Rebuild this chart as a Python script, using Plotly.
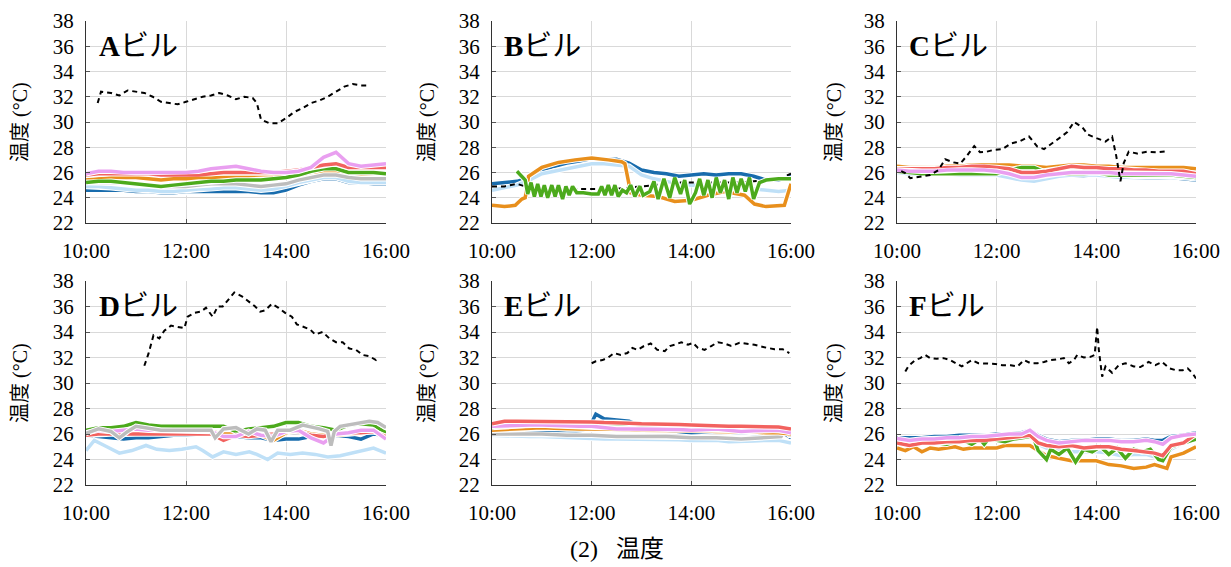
import plotly.graph_objects as go

# ---------------- data ----------------
TICK_VALS = ["10:00", "12:00", "14:00", "16:00"]
Y_TICKS = [22, 24, 26, 28, 30, 32, 34, 36, 38]
PANEL_NAMES = ["A", "B", "C", "D", "E", "F"]

T15 = ["10:00", "10:15", "10:30", "10:45", "11:00", "11:15", "11:30", "11:45", "12:00",
       "12:15", "12:30", "12:45", "13:00", "13:15", "13:30", "13:45", "14:00", "14:15",
       "14:30", "14:45", "15:00", "15:15", "15:30", "15:45", "16:00"]

# ---- A ----
A_blue = [24.6, 24.6, 24.6, 24.6, 24.5, 24.5, 24.4, 24.4, 24.5, 24.5, 24.5, 24.5, 24.5, 24.5, 24.4, 24.4, 24.6, 25.0, 25.3, 25.5, 25.5, 25.2, 25.2, 25.1, 25.1]
A_lblue = [24.9, 24.9, 24.8, 24.7, 24.6, 24.6, 24.5, 24.5, 24.6, 24.7, 24.7, 24.8, 24.8, 24.7, 24.6, 24.7, 24.9, 25.2, 25.4, 25.6, 25.6, 25.3, 25.2, 25.2, 25.2]
A_orange = [25.4, 25.5, 25.6, 25.6, 25.6, 25.5, 25.4, 25.5, 25.5, 25.6, 25.6, 25.6, 25.6, 25.6, 25.6, 25.6, 25.7, 25.8, 26.0, 26.1, 26.1, 25.9, 25.9, 25.9, 25.9]
A_gray = [25.2, 25.2, 25.2, 25.2, 25.1, 25.0, 24.9, 24.9, 24.9, 25.0, 25.1, 25.1, 25.1, 25.0, 24.9, 25.0, 25.1, 25.4, 25.6, 25.8, 25.8, 25.6, 25.5, 25.5, 25.5]
A_green = [25.2, 25.3, 25.3, 25.2, 25.1, 25.0, 24.9, 25.0, 25.1, 25.2, 25.3, 25.3, 25.4, 25.4, 25.4, 25.5, 25.6, 25.8, 26.1, 26.3, 26.3, 26.0, 26.0, 26.0, 25.9]
A_red = [25.8, 25.9, 25.9, 25.9, 25.9, 25.9, 25.8, 25.8, 25.8, 25.8, 25.9, 26.0, 26.0, 26.0, 26.0, 26.0, 26.1, 26.2, 26.4, 26.6, 26.7, 26.4, 26.4, 26.4, 26.4]
A_pink = [25.9, 26.1, 26.1, 26.0, 26.0, 26.0, 26.0, 26.0, 26.0, 26.1, 26.3, 26.4, 26.5, 26.3, 26.1, 26.0, 26.0, 26.1, 26.4, 27.2, 27.6, 26.7, 26.5, 26.6, 26.7]
A_out_t = ["10:14", "10:18", "10:30", "10:40", "10:50", "11:00", "11:10", "11:20", "11:30", "11:40", "11:50", "12:00",
           "12:10", "12:20", "12:30", "12:40", "12:50", "13:00", "13:10", "13:20", "13:25", "13:30", "13:40", "13:50",
           "14:00", "14:10", "14:20", "14:30", "14:40", "14:50", "15:00", "15:10", "15:20", "15:30", "15:40"]
A_out = [31.5, 32.4, 32.3, 32.1, 32.5, 32.4, 32.3, 32.0, 31.6, 31.5, 31.4, 31.6, 31.8, 32.0, 32.1, 32.3, 32.1, 31.8,
         32.0, 31.9, 31.5, 30.2, 29.9, 29.9, 30.3, 30.8, 31.1, 31.5, 31.7, 32.0, 32.4, 32.8, 33.0, 32.9, 32.9]

# ---- B ----
B_blue = [25.1, 25.2, 25.3, 25.6, 26.2, 26.5, 26.75, 26.9, 27.1, 27.0, 27.05, 26.75, 26.2, 26.0, 25.9, 25.7, 25.8, 25.9, 25.8, 25.9, 25.9, 25.7, 25.4, 25.4, 25.7]
B_lblue = [24.6, 24.8, 25.0, 25.4, 25.9, 26.1, 26.3, 26.5, 26.7, 26.7, 26.6, 26.5, 25.8, 25.5, 25.3, 25.1, 25.0, 25.0, 24.9, 24.8, 24.8, 24.7, 24.6, 24.5, 24.6]
B_orange_t = ["10:00", "10:15", "10:28", "10:36", "10:40", "10:44", "11:00", "11:20", "11:40", "12:00", "12:20", "12:36", "12:40",
              "12:47", "13:00", "13:20", "13:40", "14:00", "14:20", "14:40", "15:04", "15:16", "15:30", "15:52", "16:00"]
B_orange = [23.4, 23.3, 23.4, 23.9, 24.0, 25.7, 26.4, 26.8, 27.0, 27.15, 27.0, 26.85, 26.7, 24.4, 24.2, 24.1, 23.7,
            23.8, 24.2, 24.5, 24.2, 23.5, 23.3, 23.4, 25.1]
B_green_t = ["10:30", "10:35", "10:40", "10:43", "10:47", "10:51", "10:55", "10:59", "11:03", "11:07", "11:12", "11:16",
             "11:20", "11:25", "11:29", "11:33", "11:37", "11:42", "11:50", "12:00", "12:08", "12:12", "12:16", "12:20",
             "12:24", "12:28", "12:32", "12:37", "12:42", "12:47", "12:52", "12:58", "13:02", "13:10", "13:15", "13:20",
             "13:27", "13:34", "13:40", "13:47", "13:52", "13:58", "14:05", "14:10", "14:15", "14:20", "14:25", "14:30",
             "14:35", "14:40", "14:45", "14:50", "14:55", "15:00", "15:05", "15:10", "15:15", "15:22", "15:30", "15:45", "16:00"]
B_green = [26.1, 25.7, 25.4, 24.3, 25.2, 24.1, 25.1, 24.1, 25.0, 24.0, 25.0, 24.1, 25.0, 23.9, 24.9, 24.2, 24.9, 24.4,
           24.4, 24.3, 24.3, 24.9, 24.2, 25.0, 24.2, 25.0, 24.1, 24.6, 24.4, 25.0, 24.1, 24.9, 24.2, 24.5, 25.3, 23.9,
           25.5, 24.0, 25.6, 24.3, 25.4, 23.5, 24.4, 25.5, 24.2, 25.4, 24.0, 25.6, 24.4, 25.4, 23.9, 25.6, 24.4, 25.5,
           24.5, 25.6, 23.9, 25.2, 25.4, 25.5, 25.5]
B_out = [24.9, 24.9, 25.1, 24.8, 24.7, 24.7, 24.7, 24.7, 24.7, 24.7, 24.7, 24.8, 24.9, 25.0, 25.1, 25.2, 25.2, 25.2, 25.2, 25.2, 25.2, 25.3, 25.4, 25.5, 25.9]

# ---- C ----
C_blue = [26.0, 25.9, 25.9, 25.9, 25.9, 25.9, 25.9, 25.9, 25.9, 25.7, 25.5, 25.5, 25.6, 25.7, 25.8, 25.7, 25.8, 25.7, 25.6, 25.6, 25.6, 25.6, 25.6, 25.5, 25.4]
C_lblue = [26.0, 25.9, 25.9, 25.9, 25.9, 25.8, 25.8, 25.8, 25.8, 25.6, 25.4, 25.3, 25.5, 25.7, 25.8, 25.8, 25.8, 25.7, 25.6, 25.7, 25.7, 25.7, 25.7, 25.6, 25.5]
C_orange = [26.5, 26.4, 26.4, 26.4, 26.5, 26.5, 26.6, 26.6, 26.6, 26.6, 26.5, 26.5, 26.4, 26.5, 26.6, 26.6, 26.5, 26.5, 26.4, 26.4, 26.4, 26.4, 26.4, 26.4, 26.3]
C_green = [26.1, 26.0, 25.9, 25.9, 25.9, 25.9, 25.9, 25.9, 25.9, 26.2, 26.4, 26.4, 26.0, 25.9, 25.9, 25.9, 26.0, 25.8, 25.8, 25.8, 25.8, 25.8, 25.8, 25.7, 25.6]
C_red = [26.3, 26.3, 26.3, 26.3, 26.4, 26.4, 26.5, 26.5, 26.4, 26.3, 26.0, 26.0, 26.1, 26.3, 26.5, 26.4, 26.4, 26.3, 26.3, 26.2, 26.2, 26.1, 26.1, 26.1, 25.9]
C_pink = [26.2, 26.1, 26.1, 26.1, 26.2, 26.2, 26.2, 26.2, 26.1, 25.9, 25.6, 25.6, 25.8, 25.9, 26.0, 26.0, 26.0, 26.0, 25.9, 25.9, 25.9, 25.9, 25.9, 25.8, 25.7]
C_out_t = ["10:05", "10:10", "10:16", "10:28", "10:40", "10:50", "10:58", "11:08", "11:16", "11:24", "11:33", "11:40", "11:48",
           "11:57", "12:07", "12:17", "12:27", "12:39", "12:49", "12:57", "13:05", "13:15", "13:25", "13:33", "13:43",
           "13:50", "14:01", "14:11", "14:19", "14:24", "14:29", "14:33", "14:39", "14:49", "15:01", "15:13", "15:27"]
C_out = [26.1, 25.95, 25.55, 25.7, 25.8, 26.2, 27.05, 26.8, 26.7, 27.3, 28.1, 27.6, 27.65, 27.8, 27.85, 28.3, 28.45,
         28.85, 28.05, 27.85, 28.2, 28.7, 29.2, 30.0, 29.6, 29.0, 28.7, 28.45, 28.85, 27.3, 25.3, 26.75, 27.65, 27.5,
         27.65, 27.6, 27.7]

# ---- D ----
D_blue = [25.9, 25.8, 25.7, 25.6, 25.7, 25.7, 25.8, 25.9, 25.9, 26.0, 26.0, 25.9, 25.8, 25.7, 25.7, 25.5, 25.6, 25.6, 25.8, 25.8, 25.9, 25.8, 25.6, 26.0, 25.9]
D_lblue_t = ["10:00", "10:10", "10:25", "10:40", "10:55", "11:12", "11:25", "11:40", "11:55", "12:12", "12:20", "12:32", "12:45",
             "13:00", "13:16", "13:25", "13:38", "13:50", "14:05", "14:20", "14:35", "14:50", "15:05", "15:20", "15:35", "15:45", "16:00"]
D_lblue = [24.7, 25.5, 25.0, 24.5, 24.7, 25.1, 24.8, 24.7, 24.8, 25.0, 24.7, 24.2, 24.6, 24.4, 24.6, 24.4, 24.0, 24.5,
           24.4, 24.5, 24.4, 24.2, 24.3, 24.5, 24.7, 24.9, 24.5]
D_orange = [26.0, 26.1, 26.1, 26.1, 26.2, 26.2, 26.1, 26.1, 26.1, 26.1, 26.2, 26.0, 26.0, 26.0, 25.9, 25.5, 26.1, 26.3, 26.0, 25.9, 25.9, 26.0, 26.1, 26.2, 25.9]
D_green = [26.3, 26.5, 26.5, 26.6, 26.9, 26.7, 26.6, 26.6, 26.6, 26.6, 26.6, 26.6, 26.2, 26.4, 26.5, 26.6, 26.9, 26.9, 26.6, 26.5, 26.3, 26.7, 26.8, 26.7, 26.1]
D_red = [25.9, 26.0, 26.0, 26.0, 26.0, 26.0, 26.0, 26.0, 26.0, 26.0, 26.0, 25.5, 25.9, 25.8, 25.9, 26.0, 26.3, 26.2, 25.9, 25.8, 26.0, 26.1, 26.1, 26.2, 25.8]
D_pink = [26.1, 26.3, 26.2, 26.3, 26.4, 26.3, 26.3, 26.3, 26.3, 26.3, 26.2, 25.8, 25.8, 26.2, 25.9, 25.8, 26.2, 26.3, 25.7, 25.3, 26.0, 26.1, 26.3, 26.3, 25.6]
D_gray_t = ["10:00", "10:15", "10:30", "10:40", "10:50", "11:00", "11:30", "12:00", "12:30", "12:35", "12:45", "13:00", "13:15",
            "13:25", "13:35", "13:42", "13:50", "14:05", "14:20", "14:40", "14:50", "14:54", "14:58", "15:05", "15:20",
            "15:40", "15:50", "16:00"]
D_gray = [26.05, 26.4, 26.2, 25.7, 26.2, 26.6, 26.3, 26.3, 26.3, 25.7, 26.4, 26.5, 26.0, 26.4, 26.3, 25.4, 26.3, 26.3,
          26.7, 26.4, 26.2, 25.1, 26.2, 26.6, 26.8, 27.0, 26.9, 26.5]
D_out_t = ["11:10", "11:15", "11:21", "11:28", "11:34", "11:42", "11:50", "11:58", "12:02", "12:10", "12:18", "12:24", "12:32",
           "12:38", "12:44", "12:50", "12:58", "13:07", "13:15", "13:23", "13:29", "13:35", "13:43", "13:51", "13:59",
           "14:07", "14:13", "14:21", "14:29", "14:35", "14:44", "14:52", "15:00", "15:08", "15:16", "15:24", "15:32",
           "15:40", "15:48", "15:50"]
D_out = [31.35, 32.3, 33.75, 33.5, 34.1, 34.5, 34.4, 34.3, 35.2, 35.5, 35.6, 35.9, 35.2, 36.0, 36.0, 36.5, 37.1, 36.8,
         36.4, 36.0, 35.6, 35.7, 36.2, 35.9, 35.5, 35.2, 34.6, 34.4, 34.2, 33.8, 34.0, 33.5, 33.2, 33.2, 32.7, 32.6,
         32.2, 32.1, 31.8, 31.9]

# ---- E ----
E_blue_t = ["10:00", "10:30", "11:00", "11:30", "11:50", "12:00", "12:05", "12:15", "12:30", "12:45", "13:00", "13:15",
            "13:30", "14:00", "14:30", "15:00", "15:30", "15:50", "16:00"]
E_blue = [26.0, 26.1, 26.1, 26.1, 26.3, 26.9, 27.55, 27.2, 27.1, 27.0, 26.6, 26.4, 26.3, 26.1, 26.2, 26.1, 26.0, 26.1, 25.7]
E_lblue = [25.9, 25.85, 25.8, 25.8, 25.8, 25.75, 25.7, 25.7, 25.6, 25.6, 25.6, 25.6, 25.6, 25.6, 25.6, 25.55, 25.5, 25.5, 25.5, 25.4, 25.4, 25.45, 25.5, 25.5, 25.3]
E_orange = [26.3, 26.35, 26.4, 26.45, 26.5, 26.45, 26.4, 26.4, 26.4, 26.4, 26.4, 26.35, 26.3, 26.3, 26.3, 26.3, 26.3, 26.25, 26.2, 26.2, 26.2, 26.15, 26.1, 26.1, 26.0]
E_green = [26.5, 26.6, 26.7, 26.7, 26.7, 26.7, 26.7, 26.75, 26.8, 26.75, 26.7, 26.7, 26.7, 26.7, 26.7, 26.7, 26.7, 26.65, 26.6, 26.55, 26.5, 26.45, 26.4, 26.3, 26.2]
E_red = [26.8, 27.0, 27.0, 27.0, 27.0, 27.0, 26.95, 26.95, 26.95, 26.9, 26.9, 26.85, 26.8, 26.8, 26.75, 26.75, 26.7, 26.65, 26.6, 26.6, 26.6, 26.6, 26.6, 26.55, 26.4]
E_pink = [26.6, 26.65, 26.7, 26.7, 26.7, 26.65, 26.6, 26.6, 26.6, 26.5, 26.4, 26.4, 26.4, 26.4, 26.4, 26.35, 26.3, 26.35, 26.4, 26.3, 26.2, 26.25, 26.3, 26.3, 26.1]
E_gray_t = ["10:00", "10:30", "11:00", "11:30", "12:00", "12:30", "13:00", "13:30", "14:00", "14:30", "15:00", "15:30",
            "15:48", "15:53", "15:58", "16:00"]
E_gray = [26.0, 26.0, 26.0, 25.9, 25.9, 25.8, 25.8, 25.8, 25.7, 25.7, 25.6, 25.7, 25.8, 26.4, 25.9, 25.9]
E_out_t = ["12:00", "12:05", "12:13", "12:20", "12:27", "12:35", "12:43", "12:49", "12:55", "13:03", "13:11", "13:19",
           "13:28", "13:34", "13:40", "13:48", "13:56", "14:02", "14:08", "14:16", "14:24", "14:32", "14:40", "14:48",
           "14:58", "15:06", "15:16", "15:28", "15:40", "15:50", "15:58"]
E_out = [31.55, 31.7, 31.8, 32.0, 32.35, 32.2, 32.35, 32.75, 32.6, 32.9, 33.1, 32.6, 32.5, 32.9, 33.0, 33.2, 33.0,
         33.15, 32.75, 32.6, 32.9, 33.2, 33.1, 32.9, 33.15, 33.1, 33.0, 32.8, 32.65, 32.65, 32.35]

# ---- F ----
F_t = ["10:00", "10:15", "10:30", "10:45", "11:00", "11:15", "11:30", "11:45", "12:00", "12:15", "12:30", "12:40", "12:50",
       "13:00", "13:15", "13:30", "13:45", "14:00", "14:15", "14:30", "14:45", "15:00", "15:10", "15:20", "15:30", "15:45", "16:00"]
F_blue = [25.7, 25.7, 25.7, 25.8, 25.8, 25.9, 25.9, 25.9, 26.0, 26.0, 26.1, 26.3, 25.9, 25.6, 25.4, 25.5, 25.5, 25.6, 25.6, 25.5, 25.5, 25.6, 25.5, 25.5, 25.8, 25.9, 26.1]
F_lblue = [25.4, 25.4, 25.4, 25.4, 25.4, 25.5, 25.5, 25.5, 25.6, 25.6, 25.7, 25.8, 25.2, 24.9, 24.7, 24.6, 24.6, 24.6, 24.5, 24.3, 24.4, 24.4, 24.2, 24.0, 24.8, 25.3, 25.8]
F_red = [25.3, 25.1, 25.3, 25.3, 25.4, 25.4, 25.5, 25.5, 25.6, 25.7, 25.8, 25.9, 25.3, 25.1, 25.0, 25.1, 24.9, 25.0, 25.0, 24.8, 24.7, 24.6, 24.5, 24.3, 25.1, 25.3, 26.0]
F_pink = [25.65, 25.5, 25.6, 25.6, 25.7, 25.7, 25.8, 25.8, 25.9, 26.0, 26.0, 26.3, 25.8, 25.5, 25.3, 25.4, 25.5, 25.5, 25.5, 25.4, 25.4, 25.5, 25.4, 25.2, 25.7, 25.9, 26.0]
F_orange_t = ["10:00", "10:10", "10:20", "10:30", "10:40", "10:50", "11:00", "11:10", "11:20", "11:30", "11:45", "12:00",
              "12:10", "12:20", "12:30", "12:40", "12:50", "13:00", "13:15", "13:30", "13:45", "14:00", "14:15", "14:30",
              "14:45", "15:00", "15:10", "15:20", "15:25", "15:30", "15:45", "16:00"]
F_orange = [24.9, 24.7, 25.0, 24.6, 24.9, 24.8, 24.9, 25.0, 24.8, 24.9, 24.9, 24.9, 25.1, 25.1, 25.1, 25.1, 24.7, 24.3,
            24.1, 23.9, 23.9, 23.9, 23.6, 23.5, 23.3, 23.4, 23.6, 23.4, 23.3, 24.2, 24.5, 25.0]
F_green_t = ["10:00", "10:10", "10:20", "10:30", "10:40", "10:50", "11:00", "11:10", "11:20", "11:30", "11:40", "11:45",
             "11:50", "12:00", "12:10", "12:20", "12:30", "12:40", "12:45", "12:50", "13:00", "13:05", "13:15", "13:25",
             "13:35", "13:45", "13:55", "14:05", "14:15", "14:25", "14:35", "14:45", "14:55", "15:05", "15:15", "15:20",
             "15:30", "15:40", "15:50", "16:00"]
F_green = [25.4, 25.3, 25.5, 25.5, 25.4, 25.3, 25.2, 25.4, 25.5, 25.2, 25.6, 25.2, 25.6, 25.5, 25.4, 25.6, 25.7, 25.8,
           25.6, 24.7, 24.0, 24.8, 24.4, 24.9, 23.8, 24.8, 24.6, 25.0, 24.4, 24.9, 24.1, 24.8, 24.6, 24.8, 24.0, 23.9,
           25.0, 25.2, 25.4, 25.6]
F_out_t = ["10:10", "10:14", "10:22", "10:28", "10:34", "10:40", "10:48", "10:56", "11:04", "11:12", "11:18", "11:24",
           "11:30", "11:38", "11:48", "11:58", "12:07", "12:17", "12:25", "12:33", "12:41", "12:49", "12:57", "13:05",
           "13:13", "13:21", "13:27", "13:33", "13:37", "13:45", "13:53", "13:58", "14:01", "14:03", "14:07", "14:11",
           "14:19", "14:27", "14:35", "14:45", "14:53", "15:03", "15:11", "15:19", "15:28", "15:36", "15:44", "15:50",
           "15:56", "16:00"]
F_out = [30.9, 31.35, 31.8, 31.95, 32.2, 31.95, 31.9, 31.95, 31.8, 31.55, 31.3, 31.55, 31.8, 31.55, 31.55, 31.5, 31.4,
         31.4, 31.3, 31.8, 31.55, 31.55, 31.65, 31.8, 31.85, 31.95, 31.55, 31.8, 32.2, 32.0, 32.05, 32.2, 34.4, 32.6,
         30.5, 31.3, 30.8, 31.4, 31.55, 31.3, 31.25, 31.65, 31.4, 31.65, 31.15, 31.0, 31.0, 31.15, 30.75, 30.35]

# ---------------- styling ----------------
COLORS = {
    "blue": "#186cad", "lblue": "#bfe0f7", "orange": "#e88f1c", "gray": "#bdbdbd",
    "green": "#4caa1c", "red": "#f2625f", "pink": "#e99ff0",
}
SERIF = "Liberation Serif, Noto Sans CJK JP"


def hrs(lst):
    out = []
    for s in lst:
        h, m = s.split(":")
        out.append(int(h) + int(m) / 60.0)
    return out


PANELS = [
    [(T15, A_blue, "blue"), (T15, A_lblue, "lblue"), (T15, A_orange, "orange"), (T15, A_gray, "gray"),
     (T15, A_green, "green"), (T15, A_red, "red"), (T15, A_pink, "pink"), (A_out_t, A_out, "out")],
    [(T15, B_blue, "blue"), (T15, B_lblue, "lblue"), (B_orange_t, B_orange, "orange"),
     (T15, B_out, "out"), (B_green_t, B_green, "green")],
    [(T15, C_blue, "blue"), (T15, C_lblue, "lblue"), (T15, C_orange, "orange"), (T15, C_green, "green"),
     (T15, C_red, "red"), (T15, C_pink, "pink"), (C_out_t, C_out, "out")],
    [(T15, D_blue, "blue"), (D_lblue_t, D_lblue, "lblue"), (T15, D_orange, "orange"), (T15, D_green, "green"),
     (T15, D_red, "red"), (T15, D_pink, "pink"), (D_gray_t, D_gray, "gray"), (D_out_t, D_out, "out")],
    [(E_blue_t, E_blue, "blue"), (T15, E_lblue, "lblue"), (E_gray_t, E_gray, "gray"), (T15, E_orange, "orange"),
     (T15, E_green, "green"), (T15, E_pink, "pink"), (T15, E_red, "red"), (E_out_t, E_out, "out")],
    [(F_t, F_lblue, "lblue"), (F_orange_t, F_orange, "orange"), (F_green_t, F_green, "green"),
     (F_t, F_red, "red"), (F_t, F_blue, "blue"), (F_t, F_pink, "pink"), (F_out_t, F_out, "out")],
]

W, H = 1231, 567
COL_X = [(86, 386), (492, 791), (897, 1196)]
ROW_Y = [(21, 223), (281, 485)]
YTITLE_X = [20, 427, 834]

fig = go.Figure()
layout = dict(
    width=W, height=H, margin=dict(l=0, r=0, t=0, b=0, pad=0, autoexpand=False),
    paper_bgcolor="white", plot_bgcolor="white", showlegend=False,
    font=dict(family=SERIF, color="black"),
)
annotations = []

for i, series in enumerate(PANELS):
    r, c = divmod(i, 3)
    n = "" if i == 0 else str(i + 1)
    xa, ya = "x" + n, "y" + n
    x0, x1 = COL_X[c]
    y0, y1 = ROW_Y[r]
    layout["xaxis" + n] = dict(
        domain=[x0 / W, x1 / W], anchor=ya, range=[10, 16], automargin=False,
        tickvals=hrs(TICK_VALS), ticktext=TICK_VALS,
        showgrid=True, gridcolor="#d9d9d9", gridwidth=1,
        ticks="inside", ticklen=4, tickcolor="#555",
        showline=True, linecolor="#333", linewidth=1, zeroline=False,
        tickfont=dict(family=SERIF, size=21, color="black"), ticklabelstandoff=9,
    )
    layout["yaxis" + n] = dict(
        domain=[1 - y1 / H, 1 - y0 / H], anchor=xa, range=[22, 38], automargin=False,
        tickvals=Y_TICKS,
        showgrid=True, gridcolor="#d9d9d9", gridwidth=1,
        ticks="inside", ticklen=4, tickcolor="#555",
        showline=True, linecolor="#333", linewidth=1, zeroline=False,
        tickfont=dict(family=SERIF, size=21, color="black"), ticklabelstandoff=7,
    )
    for t, v, key in series:
        xs = hrs(t)
        if key == "out":
            fig.add_trace(go.Scatter(x=xs, y=v, mode="lines", xaxis=xa, yaxis=ya,
                                     line=dict(color="black", width=2, dash="5px,4px")))
        else:
            fig.add_trace(go.Scatter(x=xs, y=v, mode="lines", xaxis=xa, yaxis=ya,
                                     line=dict(color="white", width=5.5)))
            fig.add_trace(go.Scatter(x=xs, y=v, mode="lines", xaxis=xa, yaxis=ya,
                                     line=dict(color=COLORS[key], width=3.5)))
    annotations.append(dict(
        xref=xa + " domain", yref=ya + " domain", x=0.035, y=1 - 25 / (y1 - y0),
        xanchor="left", yanchor="middle", showarrow=False,
        text="<b>" + PANEL_NAMES[i] + "</b>ビル", font=dict(family=SERIF, size=29, color="black"),
    ))
    annotations.append(dict(
        xref="paper", yref="paper", x=YTITLE_X[c] / W, y=1 - (y0 + y1) / 2 / H,
        xanchor="center", yanchor="middle", showarrow=False, textangle=-90,
        text="温度 (°C)", font=dict(family=SERIF, size=20, color="black"),
    ))

annotations.append(dict(
    xref="paper", yref="paper", x=617 / W, y=1 - 549 / H, xanchor="center", yanchor="middle",
    showarrow=False, text="(2)\u2002 温度", font=dict(family=SERIF, size=24, color="black"),
))
layout["annotations"] = annotations
fig.update_layout(**layout)
fig.write_html("out.html")
